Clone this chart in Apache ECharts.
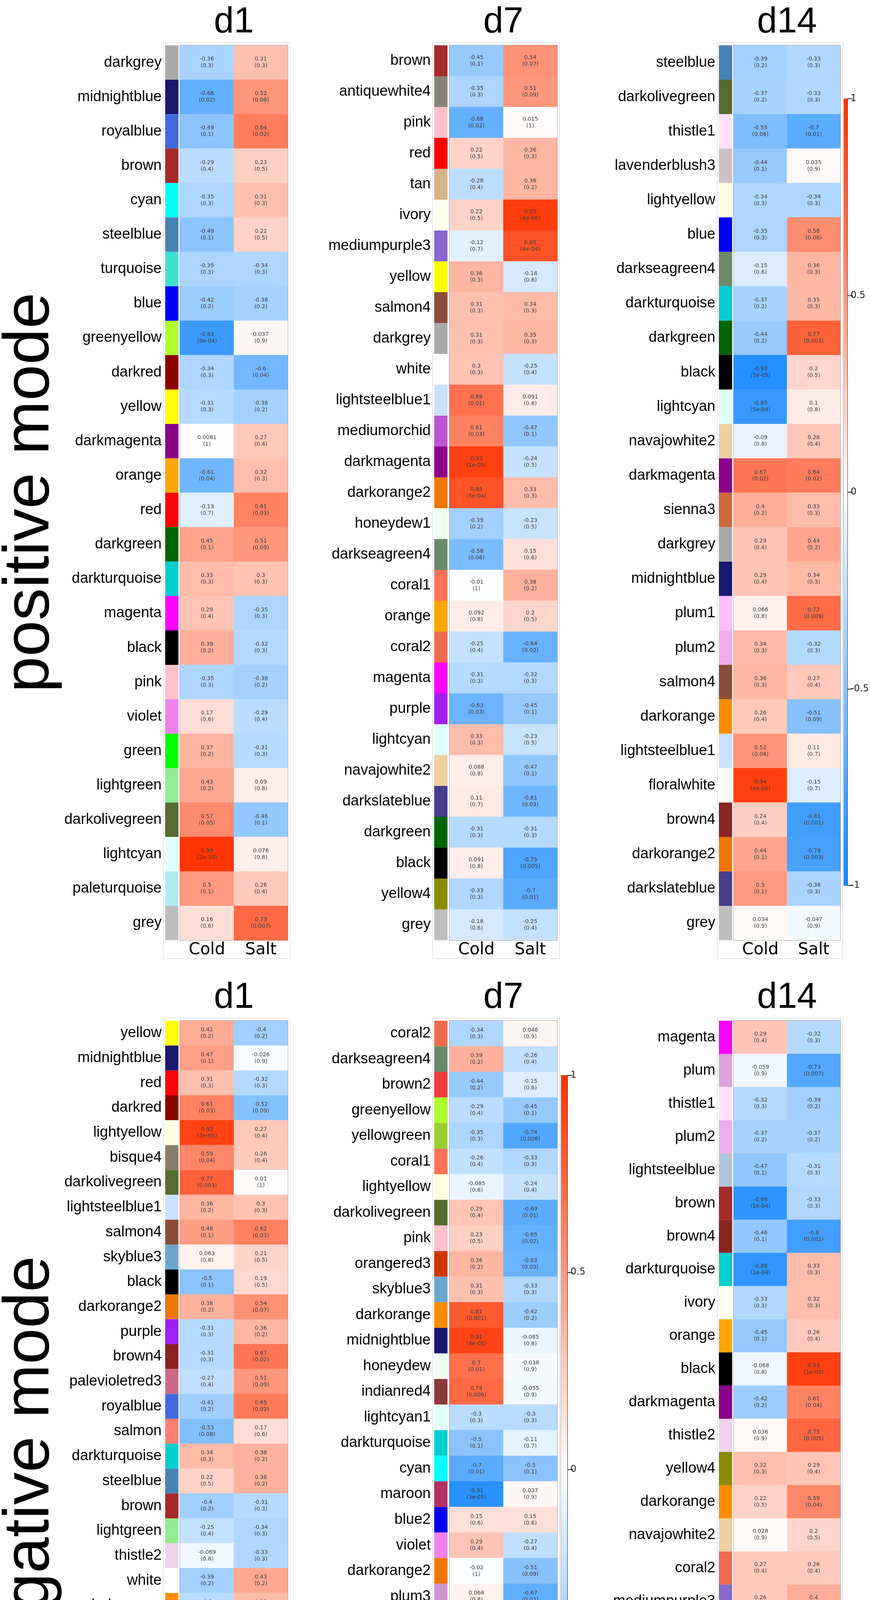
<!DOCTYPE html>
<html>
<head>
<meta charset="utf-8">
<script src="https://cdn.jsdelivr.net/npm/echarts@6/dist/echarts.min.js"></script>
<style>
    html, body { margin: 0; padding: 0; background: #fff; }
    #chart { width: 2228px; height: 4992px; }
</style>
</head>
<body>
<div id="chart"></div>
<script>
// ---- data: module-trait correlations (r) and p values ----
var conditions = ['Cold', 'Salt'];
var colorbarRange = [-1, 1];

// positive mode, d1
var posD1Modules = ['darkgrey', 'midnightblue', 'royalblue', 'brown', 'cyan', 'steelblue', 'turquoise', 'blue', 'greenyellow', 'darkred', 'yellow', 'darkmagenta', 'orange', 'red', 'darkgreen', 'darkturquoise', 'magenta', 'black', 'pink', 'violet', 'green', 'lightgreen', 'darkolivegreen', 'lightcyan', 'paleturquoise', 'grey'];
var posD1Cold = [-0.36, -0.66, -0.49, -0.29, -0.35, -0.49, -0.35, -0.42, -0.83, -0.34, -0.31, 0.0081, -0.61, -0.13, 0.45, 0.33, 0.29, 0.39, -0.35, 0.17, 0.37, 0.43, 0.57, 0.99, 0.5, 0.16];
var posD1ColdP = ['0.3', '0.02', '0.1', '0.4', '0.3', '0.1', '0.3', '0.2', '9e-04', '0.3', '0.3', '1', '0.04', '0.7', '0.1', '0.3', '0.4', '0.2', '0.3', '0.6', '0.2', '0.2', '0.05', '2e-10', '0.1', '0.6'];
var posD1Salt = [0.31, 0.52, 0.64, 0.23, 0.31, 0.22, -0.34, -0.38, 0.037, -0.6, -0.38, 0.27, 0.32, 0.61, 0.51, 0.3, -0.35, -0.32, -0.38, -0.29, -0.31, 0.09, -0.46, 0.076, 0.26, 0.73];
var posD1SaltP = ['0.3', '0.08', '0.02', '0.5', '0.3', '0.5', '0.3', '0.2', '0.9', '0.04', '0.2', '0.4', '0.3', '0.03', '0.09', '0.3', '0.3', '0.3', '0.2', '0.4', '0.3', '0.8', '0.1', '0.8', '0.4', '0.007'];

// positive mode, d7
var posD7Modules = ['brown', 'antiquewhite4', 'pink', 'red', 'tan', 'ivory', 'mediumpurple3', 'yellow', 'salmon4', 'darkgrey', 'white', 'lightsteelblue1', 'mediumorchid', 'darkmagenta', 'darkorange2', 'honeydew1', 'darkseagreen4', 'coral1', 'orange', 'coral2', 'magenta', 'purple', 'lightcyan', 'navajowhite2', 'darkslateblue', 'darkgreen', 'black', 'yellow4', 'grey'];
var posD7Cold = [-0.45, -0.35, -0.66, 0.22, -0.28, 0.22, -0.12, 0.36, 0.31, 0.31, 0.3, 0.69, 0.61, 0.93, 0.85, -0.39, -0.56, -0.01, 0.092, -0.25, -0.31, -0.63, 0.33, 0.088, 0.11, -0.31, 0.091, -0.33, -0.18];
var posD7ColdP = ['0.1', '0.3', '0.02', '0.5', '0.4', '0.5', '0.7', '0.3', '0.3', '0.3', '0.3', '0.01', '0.03', '1e-05', '5e-04', '0.2', '0.06', '1', '0.8', '0.4', '0.3', '0.03', '0.3', '0.8', '0.7', '0.3', '0.8', '0.3', '0.6'];
var posD7Salt = [0.54, 0.51, 0.015, 0.36, 0.36, 0.95, 0.85, -0.18, 0.34, 0.35, -0.25, 0.091, -0.47, -0.24, 0.33, -0.23, 0.15, 0.38, 0.2, -0.64, -0.32, -0.45, -0.23, -0.47, -0.61, -0.31, -0.75, -0.7, -0.25];
var posD7SaltP = ['0.07', '0.09', '1', '0.3', '0.2', '4e-06', '4e-04', '0.6', '0.3', '0.3', '0.4', '0.8', '0.1', '0.5', '0.3', '0.5', '0.6', '0.2', '0.5', '0.02', '0.3', '0.1', '0.5', '0.1', '0.03', '0.3', '0.005', '0.01', '0.4'];

// positive mode, d14
var posD14Modules = ['steelblue', 'darkolivegreen', 'thistle1', 'lavenderblush3', 'lightyellow', 'blue', 'darkseagreen4', 'darkturquoise', 'darkgreen', 'black', 'lightcyan', 'navajowhite2', 'darkmagenta', 'sienna3', 'darkgrey', 'midnightblue', 'plum1', 'plum2', 'salmon4', 'darkorange', 'lightsteelblue1', 'floralwhite', 'brown4', 'darkorange2', 'darkslateblue', 'grey'];
var posD14Cold = [-0.39, -0.37, -0.55, -0.44, -0.34, -0.35, -0.15, -0.37, -0.44, -0.93, -0.85, -0.09, 0.67, 0.4, 0.29, 0.29, 0.066, 0.34, 0.36, 0.26, 0.52, 0.94, 0.24, 0.44, 0.5, 0.034];
var posD14ColdP = ['0.2', '0.2', '0.06', '0.1', '0.3', '0.3', '0.6', '0.2', '0.2', '1e-05', '5e-04', '0.8', '0.02', '0.2', '0.4', '0.4', '0.8', '0.3', '0.3', '0.4', '0.08', '4e-06', '0.4', '0.1', '0.1', '0.9'];
var posD14Salt = [-0.33, -0.33, -0.7, 0.035, -0.34, 0.56, 0.36, 0.35, 0.77, 0.2, 0.1, 0.28, 0.64, 0.33, 0.44, 0.34, 0.72, -0.32, 0.27, -0.51, 0.11, -0.15, -0.81, -0.78, -0.36, -0.047];
var posD14SaltP = ['0.3', '0.3', '0.01', '0.9', '0.3', '0.06', '0.3', '0.3', '0.003', '0.5', '0.8', '0.4', '0.02', '0.3', '0.2', '0.3', '0.009', '0.3', '0.4', '0.09', '0.7', '0.7', '0.001', '0.003', '0.3', '0.9'];

// negative mode, d1
var negD1Modules = ['yellow', 'midnightblue', 'red', 'darkred', 'lightyellow', 'bisque4', 'darkolivegreen', 'lightsteelblue1', 'salmon4', 'skyblue3', 'black', 'darkorange2', 'purple', 'brown4', 'palevioletred3', 'royalblue', 'salmon', 'darkturquoise', 'steelblue', 'brown', 'lightgreen', 'thistle2', 'white', 'darkorange', 'thistle1', 'cyan', 'ivory', 'green', 'magenta', 'plum2', 'darkmagenta', 'sienna3', 'darkgreen', 'lightcyan', 'pink', 'grey'];
var negD1Cold = [0.41, 0.47, 0.31, 0.61, 0.92, 0.59, 0.77, 0.36, 0.48, 0.063, -0.5, 0.38, -0.31, -0.31, -0.27, -0.41, -0.53, 0.34, 0.22, -0.4, -0.25, -0.069, -0.39, -0.3, -0.48, -0.81, -0.45, -0.45, -0.21, -0.41, -0.9, -0.53, 0.32, -0.15, -0.28, -0.019];
var negD1ColdP = ['0.2', '0.1', '0.3', '0.03', '3e-05', '0.04', '0.003', '0.2', '0.1', '0.8', '0.1', '0.2', '0.3', '0.3', '0.4', '0.2', '0.08', '0.3', '0.5', '0.2', '0.4', '0.8', '0.2', '0.3', '0.1', '0.001', '0.1', '0.1', '0.5', '0.2', '8e-05', '0.08', '0.3', '0.6', '0.4', '1'];
var negD1Salt = [-0.4, -0.026, -0.32, -0.52, 0.27, 0.26, 0.01, 0.3, 0.62, 0.21, 0.19, 0.54, 0.36, 0.67, 0.51, 0.65, 0.17, 0.38, 0.38, -0.31, -0.34, -0.33, 0.43, 0.33, 0.09, -0.32, -0.55, -0.35, -0.46, -0.014, 0.23, 0.051, -0.36, -0.34, 0.33, 0.32];
var negD1SaltP = ['0.2', '0.9', '0.3', '0.09', '0.4', '0.4', '1', '0.3', '0.03', '0.5', '0.5', '0.07', '0.2', '0.02', '0.09', '0.02', '0.6', '0.2', '0.2', '0.3', '0.3', '0.3', '0.2', '0.3', '0.8', '0.3', '0.06', '0.3', '0.1', '1', '0.5', '0.9', '0.3', '0.3', '0.3', '0.3'];

// negative mode, d7
var negD7Modules = ['coral2', 'darkseagreen4', 'brown2', 'greenyellow', 'yellowgreen', 'coral1', 'lightyellow', 'darkolivegreen', 'pink', 'orangered3', 'skyblue3', 'darkorange', 'midnightblue', 'honeydew', 'indianred4', 'lightcyan1', 'darkturquoise', 'cyan', 'maroon', 'blue2', 'violet', 'darkorange2', 'plum3', 'lightsteelblue', 'magenta4', 'darkolivegreen4', 'darkslateblue', 'palevioletred2', 'red', 'lightcoral', 'white', 'bisque4', 'floralwhite', 'lavenderblush3', 'grey'];
var negD7Cold = [-0.34, 0.39, -0.44, -0.29, -0.35, -0.26, -0.085, 0.29, 0.23, 0.36, 0.31, 0.81, 0.91, 0.7, 0.74, -0.3, -0.5, -0.7, -0.91, 0.15, 0.29, -0.02, 0.068, 0.25, 0.31, 0.24, 0.59, -0.093, 0.29, -0.76, -0.35, -0.38, -0.58, -0.37, 0.22];
var negD7ColdP = ['0.3', '0.2', '0.2', '0.4', '0.3', '0.4', '0.8', '0.4', '0.5', '0.2', '0.3', '0.001', '4e-05', '0.01', '0.006', '0.3', '0.1', '0.01', '3e-05', '0.6', '0.4', '1', '0.8', '0.4', '0.3', '0.4', '0.05', '0.8', '0.4', '0.004', '0.3', '0.2', '0.05', '0.2', '0.5'];
var negD7Salt = [0.046, -0.26, -0.15, -0.45, -0.74, -0.33, -0.24, -0.69, -0.65, -0.63, -0.33, -0.42, -0.085, -0.038, -0.055, -0.3, -0.11, -0.5, 0.037, 0.15, -0.27, -0.51, -0.67, 0.39, 0.32, 0.8, 0.73, 0.33, 0.31, 0.31, 0.31, 0.62, 0.39, 0.83, -0.065];
var negD7SaltP = ['0.9', '0.4', '0.6', '0.1', '0.006', '0.3', '0.4', '0.01', '0.02', '0.03', '0.3', '0.2', '0.8', '0.9', '0.9', '0.3', '0.7', '0.1', '0.9', '0.6', '0.4', '0.09', '0.02', '0.2', '0.3', '0.002', '0.006', '0.3', '0.3', '0.3', '0.3', '0.03', '0.2', '8e-04', '0.8'];

// negative mode, d14
var negD14Modules = ['magenta', 'plum', 'thistle1', 'plum2', 'lightsteelblue', 'brown', 'brown4', 'darkturquoise', 'ivory', 'orange', 'black', 'darkmagenta', 'thistle2', 'yellow4', 'darkorange', 'navajowhite2', 'coral2', 'mediumpurple3', 'antiquewhite4', 'skyblue2', 'darkolivegreen', 'floralwhite', 'indianred4', 'yellowgreen', 'bisque4', 'darkorange2', 'grey'];
var negD14Cold = [0.29, -0.059, -0.32, -0.37, -0.47, -0.89, -0.46, -0.88, -0.33, -0.45, -0.068, -0.42, 0.036, 0.32, 0.22, 0.028, 0.27, 0.26, 0.44, 0.41, 0.39, 0.31, 0.42, 0.43, 0.93, 0.86, 0.0065];
var negD14ColdP = ['0.4', '0.9', '0.3', '0.2', '0.1', '1e-04', '0.1', '1e-04', '0.3', '0.1', '0.8', '0.2', '0.9', '0.3', '0.5', '0.9', '0.4', '0.4', '0.2', '0.2', '0.2', '0.3', '0.2', '0.2', '2e-05', '3e-04', '1'];
var negD14Salt = [-0.32, -0.73, -0.39, -0.37, -0.31, -0.33, -0.8, 0.33, 0.32, 0.26, 0.93, 0.61, 0.75, 0.29, 0.59, 0.2, 0.26, 0.4, 0.39, 0.23, -0.77, -0.43, -0.05, -0.36, 0.16, -0.37, 0.065];
var negD14SaltP = ['0.3', '0.007', '0.2', '0.2', '0.3', '0.3', '0.002', '0.3', '0.3', '0.4', '1e-05', '0.04', '0.005', '0.4', '0.04', '0.5', '0.4', '0.2', '0.2', '0.5', '0.003', '0.2', '0.9', '0.3', '0.6', '0.2', '0.8'];

// R colour names used as module names
var moduleColors = {
    darkgrey: '#A9A9A9', midnightblue: '#191970', royalblue: '#4169E1', brown: '#A52A2A', cyan: '#00FFFF',
    steelblue: '#4682B4', turquoise: '#40E0D0', blue: '#0000FF', greenyellow: '#ADFF2F', darkred: '#8B0000',
    yellow: '#FFFF00', darkmagenta: '#8B008B', orange: '#FFA500', red: '#FF0000', darkgreen: '#006400',
    darkturquoise: '#00CED1', magenta: '#FF00FF', black: '#000000', pink: '#FFC0CB', violet: '#EE82EE',
    green: '#00FF00', lightgreen: '#90EE90', darkolivegreen: '#556B2F', lightcyan: '#E0FFFF', paleturquoise: '#AFEEEE',
    grey: '#BEBEBE', antiquewhite4: '#8B8378', tan: '#D2B48C', ivory: '#FFFFF0', mediumpurple3: '#8968CD',
    salmon4: '#8B4C39', white: '#FFFFFF', lightsteelblue1: '#CAE1FF', mediumorchid: '#BA55D3', darkorange2: '#EE7600',
    honeydew1: '#F0FFF0', darkseagreen4: '#698B69', coral1: '#FF7256', coral2: '#EE6A50', purple: '#A020F0',
    navajowhite2: '#EECFA1', darkslateblue: '#483D8B', yellow4: '#8B8B00', thistle1: '#FFE1FF', lavenderblush3: '#CDC1C5',
    lightyellow: '#FFFFE0', sienna3: '#CD6839', plum1: '#FFBBFF', plum2: '#EEAEEE', darkorange: '#FF8C00',
    floralwhite: '#FFFAF0', brown4: '#8B2323', bisque4: '#8B7D6B', skyblue3: '#6CA6CD', palevioletred3: '#CD6889',
    salmon: '#FA8072', thistle2: '#EED2EE', brown2: '#EE3B3B', yellowgreen: '#9ACD32', orangered3: '#CD3700',
    honeydew: '#F0FFF0', indianred4: '#8B3A3A', lightcyan1: '#E0FFFF', maroon: '#B03060', blue2: '#0000EE',
    plum3: '#CD96CD', lightsteelblue: '#B0C4DE', magenta4: '#8B008B', darkolivegreen4: '#6E8B3D', palevioletred2: '#EE799F',
    lightcoral: '#F08080', plum: '#DDA0DD', skyblue2: '#7EC0EE'
};

var BLUE = '#1487ff', RED = '#ff3300';

// ---- layout ----
var panels = [
    {title: 'd1', modules: posD1Modules, cold: posD1Cold, coldP: posD1ColdP, salt: posD1Salt, saltP: posD1SaltP, modLeft: 423, cellLeft: 461, cellWidth: 276, top: 116, height: 2291},
    {title: 'd7', modules: posD7Modules, cold: posD7Cold, coldP: posD7ColdP, salt: posD7Salt, saltP: posD7SaltP, modLeft: 1112, cellLeft: 1151, cellWidth: 276, top: 116, height: 2291},
    {title: 'd14', modules: posD14Modules, cold: posD14Cold, coldP: posD14ColdP, salt: posD14Salt, saltP: posD14SaltP, modLeft: 1841, cellLeft: 1879, cellWidth: 273, top: 116, height: 2291},
    {title: 'd1', modules: negD1Modules, cold: negD1Cold, coldP: negD1ColdP, salt: negD1Salt, saltP: negD1SaltP, modLeft: 423, cellLeft: 461, cellWidth: 276, top: 2613, height: 2293},
    {title: 'd7', modules: negD7Modules, cold: negD7Cold, coldP: negD7ColdP, salt: negD7Salt, saltP: negD7SaltP, modLeft: 1112, cellLeft: 1151, cellWidth: 276, top: 2613, height: 2293},
    {title: 'd14', modules: negD14Modules, cold: negD14Cold, coldP: negD14ColdP, salt: negD14Salt, saltP: negD14SaltP, modLeft: 1841, cellLeft: 1879, cellWidth: 273, top: 2613, height: 2293}
];
var colorbars = [
    {left: 2161, top: 253, width: 17, height: 2014},
    {left: 1437, top: 2753, width: 16, height: 2017}
];

var grids = [], xAxes = [], yAxes = [], series = [], graphics = [], heatIdx = [];

panels.forEach(function (p) {
    // module colour strip with the module names as its axis labels
    var g = grids.length;
    grids.push({left: p.modLeft, top: p.top, width: 34, height: p.height});
    xAxes.push({gridIndex: g, type: 'value', min: 0, max: 1, show: false});
    yAxes.push({
        gridIndex: g, type: 'category', data: p.modules, inverse: true,
        axisLine: {show: false}, axisTick: {show: false}, splitLine: {show: false},
        axisLabel: {interval: 0, margin: 9, fontSize: 38, color: '#000', fontFamily: 'Liberation Sans'}
    });
    series.push({
        type: 'bar', xAxisIndex: g, yAxisIndex: g, barWidth: '100%', silent: true,
        data: p.modules.map(function (m) {
            return {value: 1, itemStyle: {color: moduleColors[m]}};
        })
    });

    // correlation cells
    var h = grids.length;
    grids.push({left: p.cellLeft, top: p.top, width: p.cellWidth, height: p.height,
        show: true, borderColor: '#8c8c8c', borderWidth: 2});
    xAxes.push({
        gridIndex: h, type: 'category', data: conditions, position: 'bottom',
        axisLine: {show: false}, axisTick: {show: false}, splitLine: {show: false},
        axisLabel: {interval: 0, margin: 4, fontSize: 42, color: '#000', fontFamily: 'DejaVu Sans'}
    });
    yAxes.push({gridIndex: h, type: 'category', data: p.modules, inverse: true, show: false});
    var data = [];
    p.modules.forEach(function (m, j) {
        data.push([0, j, p.cold[j]]);
        data.push([1, j, p.salt[j]]);
    });
    heatIdx.push(series.length);
    series.push({
        type: 'heatmap', xAxisIndex: h, yAxisIndex: h, data: data,
        label: {
            show: true, fontSize: 14, lineHeight: 17, color: '#3a3a3a', fontFamily: 'DejaVu Sans',
            formatter: function (prm) {
                var j = prm.value[1];
                var pv = prm.value[0] === 0 ? p.coldP[j] : p.saltP[j];
                return prm.value[2] + '\n(' + pv + ')';
            }
        },
        emphasis: {disabled: true}
    });

    // panel title and the light frame round the panel
    graphics.push({
        type: 'text', x: p.cellLeft + p.cellWidth / 2, y: p.top - 12,
        style: {text: p.title, font: '92px "Liberation Sans"', fill: '#000',
            textAlign: 'center', textVerticalAlign: 'bottom', align: 'center', verticalAlign: 'bottom'}
    });
    graphics.push({
        type: 'rect', z: -10,
        shape: {x: p.modLeft - 4, y: p.top - 7, width: p.cellLeft + p.cellWidth + 10 - p.modLeft, height: p.height + 54},
        style: {fill: 'none', stroke: '#e6e6e6', lineWidth: 2}
    });
});

// colour keys (-1 .. 1)
colorbars.forEach(function (c) {
    var g = grids.length;
    grids.push({left: c.left, top: c.top, width: c.width, height: c.height,
        show: true, borderColor: '#9a9a9a', borderWidth: 2});
    xAxes.push({gridIndex: g, type: 'category', data: [''], show: false});
    yAxes.push({
        gridIndex: g, type: 'value', min: colorbarRange[0], max: colorbarRange[1], interval: 0.5, position: 'right',
        splitLine: {show: false},
        axisLine: {show: true, lineStyle: {color: '#222', width: 2}},
        axisTick: {show: true, length: 14, lineStyle: {color: '#222', width: 2}},
        axisLabel: {margin: 8, fontSize: 24, color: '#222', fontFamily: 'DejaVu Sans'}
    });
    series.push({
        type: 'bar', xAxisIndex: g, yAxisIndex: g, barWidth: '100%', barGap: '-100%', silent: true,
        data: [colorbarRange[1]],
        itemStyle: {color: new echarts.graphic.LinearGradient(0, 0, 0, 1, [{offset: 0, color: RED}, {offset: 1, color: '#ffffff'}])}
    });
    series.push({
        type: 'bar', xAxisIndex: g, yAxisIndex: g, barWidth: '100%', barGap: '-100%', silent: true,
        data: [colorbarRange[0]],
        itemStyle: {color: new echarts.graphic.LinearGradient(0, 0, 0, 1, [{offset: 0, color: '#ffffff'}, {offset: 1, color: BLUE}])}
    });
});

// mode labels, rotated
graphics.push({
    type: 'text', x: 78, y: 1261, rotation: Math.PI / 2,
    style: {text: 'positive mode', font: '166px "Liberation Sans"', fill: '#000',
        textAlign: 'center', textVerticalAlign: 'middle', align: 'center', verticalAlign: 'middle'}
});
graphics.push({
    type: 'text', x: 78, y: 3760, rotation: Math.PI / 2,
    style: {text: 'negative mode', font: '166px "Liberation Sans"', fill: '#000',
        textAlign: 'center', textVerticalAlign: 'middle', align: 'center', verticalAlign: 'middle'}
});

var chart = echarts.init(document.getElementById('chart'), null, {renderer: 'canvas'});
chart.setOption({
    animation: false,
    backgroundColor: '#fff',
    grid: grids,
    xAxis: xAxes,
    yAxis: yAxes,
    visualMap: {
        type: 'continuous', show: false, min: colorbarRange[0], max: colorbarRange[1],
        dimension: 2, seriesIndex: heatIdx,
        inRange: {color: [BLUE, '#ffffff', RED]}
    },
    graphic: graphics,
    series: series
});
</script>
</body>
</html>
